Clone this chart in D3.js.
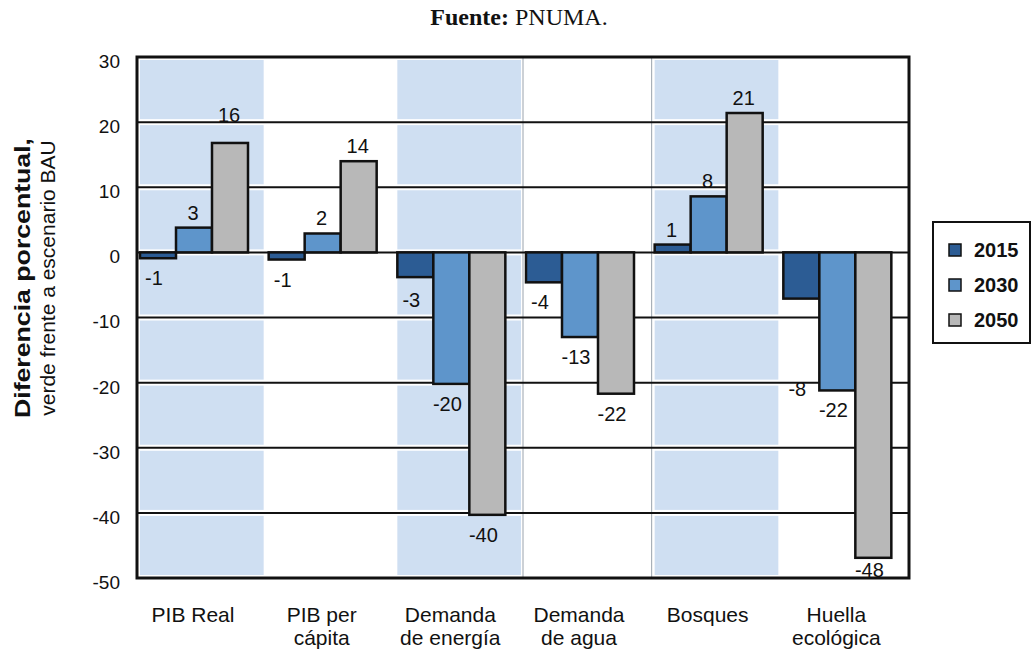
<!DOCTYPE html>
<html><head><meta charset="utf-8">
<script src="https://cdn.jsdelivr.net/npm/d3@7"></script>
<style>
html,body{margin:0;padding:0;background:#fff;}
svg{display:block;}
text{font-family:"Liberation Sans",Arial,sans-serif;fill:#111;}
</style></head>
<body>
<svg id="chart" width="1033" height="651"></svg>
<script>
const categories = [["PIB Real"],["PIB per","cápita"],["Demanda","de energía"],["Demanda","de agua"],["Bosques"],["Huella","ecológica"]];
const series = ["2015","2030","2050"];
const values2015 = [-0.9,-1.1,-3.8,-4.6,1.2,-7.1];
const values2030 = [3.8,2.9,-20.2,-13,8.6,-21.2];
const values2050 = [16.8,14,-40.3,-21.7,21.4,-46.9];
const labels2015 = ["-1","-1","-3","-4","1","-8"];
const labels2030 = ["3","2","-20","-13","8","-22"];
const labels2050 = ["16","14","-40","-22","21","-48"];
const yTicks = [30,20,10,0,-10,-20,-30,-40,-50];

const colors = {"2015":"#2c5c94","2030":"#5e95cb","2050":"#b8b8b8"};
const shade = "#cfdff2";

const svg = d3.select("#chart");
const L = 137, R = 909, T = 57, B = 578;
const catKeys = categories.map(c => c.join(" "));
const x = d3.scaleBand().domain(catKeys).range([L, R]);
const xs = d3.scaleBand().domain(series).range([3, 111]);
const y = d3.scaleLinear().domain([-50, 30]).range([B, T]);

const vals = {"2015":values2015,"2030":values2030,"2050":values2050};
const labs = {"2015":labels2015,"2030":labels2030,"2050":labels2050};

// title
const title = svg.append("text").attr("x", 519).attr("y", 25).attr("text-anchor","middle")
  .style("font-family","'Liberation Serif','Times New Roman',serif").style("font-size","24px");
title.append("tspan").style("font-weight","bold").text("Fuente:");
title.append("tspan").text(" PNUMA.");

// shaded bands (cells between gridlines)
const cells = [];
catKeys.forEach((c,i) => { if (i % 2 === 0) {
  for (let k = 0; k < yTicks.length - 1; k++) cells.push({c, top: yTicks[k], bot: yTicks[k+1]});
}});
svg.append("g").selectAll("rect").data(cells).join("rect")
  .attr("x", d => x(d.c) + 3)
  .attr("width", d => x.bandwidth() - 5)
  .attr("y", d => y(d.top) + 3)
  .attr("height", d => y(d.bot) - y(d.top) - 6)
  .attr("fill", shade);

// vertical thin lines at band boundaries
svg.append("g").selectAll("line").data(catKeys.slice(3,5)).join("line")
  .attr("x1", d => x(d)).attr("x2", d => x(d))
  .attr("y1", T).attr("y2", B)
  .attr("stroke", "#9aa3ad").attr("stroke-width", 1);

// gridlines
svg.append("g").selectAll("line").data(yTicks).join("line")
  .attr("x1", L).attr("x2", R)
  .attr("y1", d => y(d)).attr("y2", d => y(d))
  .attr("stroke", "#111").attr("stroke-width", 2);

// y axis labels
const yAxis = d3.axisLeft(y).tickValues(yTicks).tickSize(0).tickPadding(0).tickFormat(d => String(d));
const ya = svg.append("g").attr("transform", `translate(${120},0)`).call(yAxis);
ya.select(".domain").remove();
ya.selectAll("text").style("font-size","19px").style("font-family","'Liberation Sans',Arial,sans-serif")
  .attr("dy","0.55em").attr("fill","#111");

// bars
const barData = [];
catKeys.forEach((c,i) => series.forEach(s => barData.push({c, s, v: vals[s][i], lab: labs[s][i], i})));
svg.append("g").selectAll("rect").data(barData).join("rect")
  .attr("x", d => x(d.c) + xs(d.s))
  .attr("width", xs.bandwidth())
  .attr("y", d => y(Math.max(0, d.v)))
  .attr("height", d => Math.abs(y(d.v) - y(0)))
  .attr("fill", d => colors[d.s])
  .attr("stroke", "#111").attr("stroke-width", 2.5);

// value labels
const labelNudge = {"PIB Real|2050": -13, "Huella ecológica|2015": 70, "Demanda de energía|2015": 3};
svg.append("g").selectAll("text").data(barData).join("text")
  .attr("text-anchor","middle")
  .style("font-size","20px")
  .attr("x", d => x(d.c) + xs(d.s) + xs.bandwidth()/2 + (d.v < 0 ? -4 : -1))
  .attr("y", d => {
    const n = labelNudge[d.c + "|" + d.s] || 0;
    if (d.v >= 0) return y(d.v) - 8 + n;
    return Math.min(y(d.v) + 27, B - 1) + n;
  })
  .text(d => d.lab);

// frame
svg.append("rect").attr("x", L).attr("y", T).attr("width", R - L).attr("height", B - T)
  .attr("fill","none").attr("stroke","#111").attr("stroke-width",3);

// category labels
const cg = svg.append("g").selectAll("text").data(categories).join("text")
  .attr("text-anchor","middle")
  .style("font-size","21px")
  .attr("x", (d,i) => x(catKeys[i]) + 56)
  .attr("y", 622);
cg.selectAll("tspan").data(d => d).join("tspan")
  .attr("x", function(){ return d3.select(this.parentNode).attr("x"); })
  .attr("dy", (d,j) => j === 0 ? 0 : 23)
  .text(d => d);

// y axis title
const yt = svg.append("g").attr("transform","translate(0,278) rotate(-90)");
yt.append("text").attr("x",0).attr("y",30).attr("text-anchor","middle")
  .style("font-size","22px").style("font-weight","bold")
  .attr("textLength", 280).attr("lengthAdjust","spacingAndGlyphs")
  .text("Diferencia porcentual,");
yt.append("text").attr("x",0).attr("y",55).attr("text-anchor","middle")
  .style("font-size","21px").text("verde frente a escenario BAU");

// legend
const lg = svg.append("g");
lg.append("rect").attr("x",933).attr("y",222).attr("width",97).attr("height",121)
  .attr("fill","#fff").attr("stroke","#111").attr("stroke-width",2);
const ly = d3.scalePoint().domain(series).range([250, 320]);
const li = lg.selectAll("g.item").data(series).join("g").attr("class","item");
li.append("rect").attr("x",949).attr("y", d => ly(d) - 6).attr("width",12).attr("height",12)
  .attr("fill", d => colors[d]).attr("stroke","#111").attr("stroke-width",1.5);
li.append("text").attr("x",974).attr("y", d => ly(d) + 7)
  .style("font-size","20px").style("font-weight","bold").text(d => d);
</script>
</body></html>
